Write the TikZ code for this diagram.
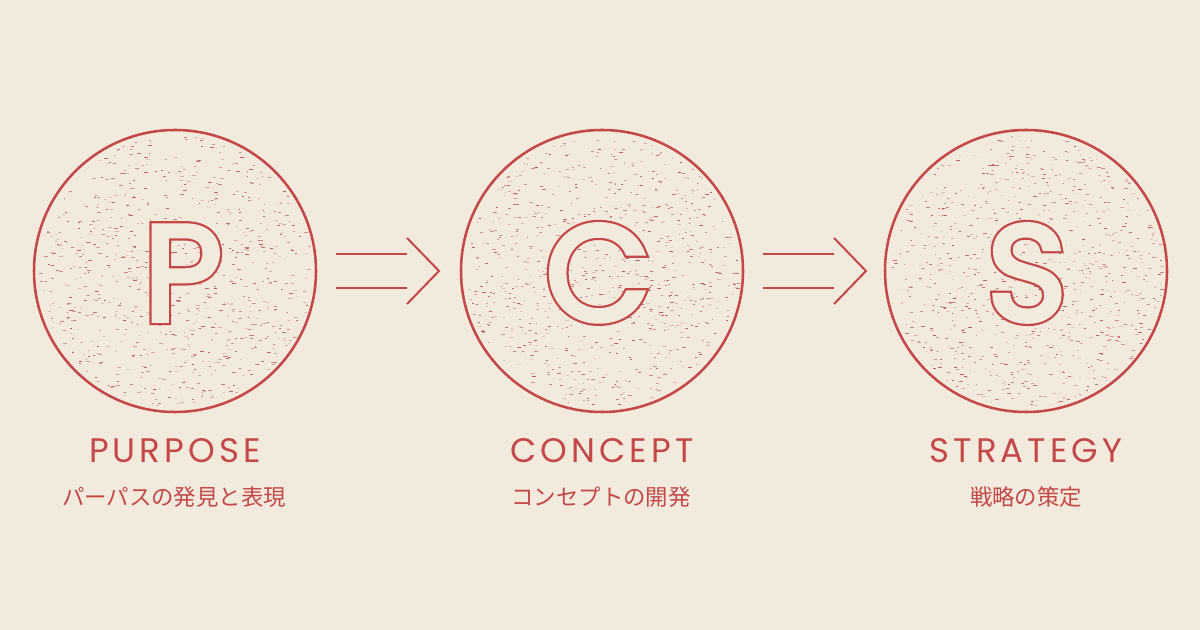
\documentclass[tikz,border=0pt]{standalone}
\usepackage{fontspec}
\setmainfont{Poppins}
\newfontfamily\labelfont[LetterSpace=12]{Poppins}
\newfontfamily\rimfont[FakeBold=6.8]{Poppins}
\newfontfamily\facefont[FakeBold=3.5]{Poppins}
\newfontfamily\jpfont{Noto Sans CJK JP}
\usetikzlibrary{positioning,calc}
\definecolor{PCSBack}{RGB}{242,234,220}
\definecolor{PCSRed}{RGB}{196,72,74}
\definecolor{PCSDot}{RGB}{178,58,68}
\tikzset{
    stagenode/.style={circle, draw=PCSRed, line width=1.9pt, minimum size=211.5pt, inner sep=0pt, outer sep=0pt},
    rimnode/.style={anchor=base, text=PCSRed, inner sep=0pt, font=\rimfont\fontsize{102pt}{102pt}\selectfont},
    letternode/.style={anchor=base, text=PCSBack, inner sep=0pt, font=\facefont\fontsize{102pt}{102pt}\selectfont},
    titlenode/.style={anchor=base, text=PCSRed, inner sep=0pt, font=\labelfont\fontsize{25.5pt}{26pt}\selectfont},
    subnode/.style={anchor=base, text=PCSRed, inner sep=0pt, font=\jpfont\fontsize{16.8pt}{17pt}\selectfont},
    arrowline/.style={draw=PCSRed, line width=1.5pt},
    speck/.style={draw=PCSDot, line width=0.75pt}
}
% grain inside a circle
\newcommand\speckle[1]{%
    \foreach \k in {1,...,850}{%
        \pgfmathsetmacro\ang{360*rnd}%
        \pgfmathsetmacro\dist{136*sqrt(rnd)}%
        \pgfmathsetmacro\len{1+3*rnd}%
        \pgfmathsetmacro\op{0.15+0.65*rnd}%
        \draw[speck, draw opacity=\op] ($(#1)+(\ang:\dist)$) -- ++(\len,0);
    }}
% double arrow after a stage
\newcommand\pcsarrow[1]{%
    \draw[arrowline] ($(#1.east)+(20,-17)$) -- ++(71,0);
    \draw[arrowline] ($(#1.east)+(20,17)$) -- ++(71,0);
    \draw[arrowline, line join=miter] ($(#1.east)+(91,-33)$) -- ++(32,33) -- ++(-32,33);
}

\begin{document}
\begin{tikzpicture}[x=0.75pt, y=-0.75pt]
    \fill[PCSBack] (0,0) rectangle (1200,630);
    \useasboundingbox (0,0) rectangle (1200,630);
    \pgfmathsetseed{2024}

    % --- circles ---
    \node[stagenode] (purpose) at (175,271) {};
    \node[stagenode] (concept) at (602,271) {};
    \node[stagenode] (strategy) at (1026,271) {};

    \speckle{purpose}
    \speckle{concept}
    \speckle{strategy}

    % --- big letters: red rim, then plain face on top ---
    \node[rimnode] (prim) at (183,320.5) {P};
    \node[letternode] (pletter) at (183,320.5) {P};
    \node[rimnode] (crim) at (598,320.5) {C};
    \node[letternode] (cletter) at (598,320.5) {C};
    \node[rimnode] (srim) at (1027,320.5) {S};
    \node[letternode] (sletter) at (1027,320.5) {S};

    % --- arrows ---
    \pcsarrow{purpose}
    \pcsarrow{concept}

    % --- labels ---
    \node[titlenode] (purposetitle) at (175,463) {PURPOSE};
    \node[titlenode] (concepttitle) at (602,463) {CONCEPT};
    \node[titlenode] (strategytitle) at (1026,463) {STRATEGY};
    \node[subnode] (purposesub) at (174,506) {パーパスの発見と表現};
    \node[subnode] (conceptsub) at (601,506) {コンセプトの開発};
    \node[subnode] (strategysub) at (1026,506) {戦略の策定};
\end{tikzpicture}
\end{document}
